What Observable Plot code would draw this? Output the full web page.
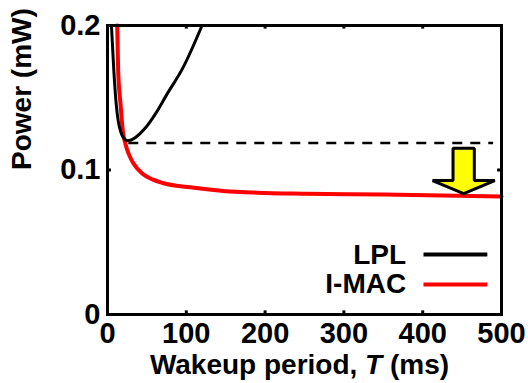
<!DOCTYPE html>
<html><head><meta charset="utf-8">
<script src="https://cdn.jsdelivr.net/npm/d3@7"></script>
<script src="https://cdn.jsdelivr.net/npm/@observablehq/plot@0.6"></script>
<style>body{margin:0;background:#fff}</style>
</head><body><div id="chart"></div>
<script>
// Data
const lplT = [5, 8, 11, 13.6, 16.5, 20, 25, 30, 35.5, 48, 61, 75, 96, 120];
const lplP = [0.2, 0.169, 0.146, 0.134, 0.127, 0.1225, 0.1204, 0.1208, 0.1225, 0.129, 0.139, 0.152, 0.171, 0.2];
const imacT = [12.3, 13.5, 16.5, 19.4, 22.8, 27, 33, 44, 57, 70, 105, 147, 190, 250, 350, 500];
const imacP = [0.2, 0.169, 0.146, 0.127, 0.118, 0.111, 0.1045, 0.0976, 0.0935, 0.091, 0.088, 0.0855, 0.0843, 0.0836, 0.083, 0.0817];
const seriesNames = ["LPL", "I-MAC"];
const seriesColors = ["black", "#ff0000"];
const xTicks = [0, 100, 200, 300, 400, 500];
const yTicks = [0, 0.1, 0.2];
const yTickLabels = ["0", "0.1", "0.2"];
const lplMinLevel = 0.1186;      // dashed reference level
const dashedFrom = 27, dashedTo = 490;
const arrowAt = 452;             // arrow centre (ms)
const arrowTop = 0.115, arrowNeck = 0.0927, arrowTip = 0.0837;

const lpl = lplT.map((t, i) => ({T: t, P: lplP[i]}));
const imac = imacT.map((t, i) => ({T: t, P: imacP[i]}));
const yLab = yTicks.map((v, i) => ({v, s: yTickLabels[i]}));

// arrow polygon in data units
const sw = 13.5, hw = 39.5;
const arrow = [
  {T: arrowAt - sw, P: arrowTop}, {T: arrowAt + sw, P: arrowTop},
  {T: arrowAt + sw, P: arrowNeck}, {T: arrowAt + hw, P: arrowNeck},
  {T: arrowAt, P: arrowTip},
  {T: arrowAt - hw, P: arrowNeck}, {T: arrowAt - sw, P: arrowNeck}
];

// legend placement (data units)
const legTextX = 379, legLineX1 = 401, legLineX2 = 482;
const legY = [0.0415, 0.0208];
const legend = seriesNames.map((n, i) => ({name: n, color: seriesColors[i], y: legY[i]}));

const tickLenY = 0.0025, tickLenX = 5;
const innerX = xTicks.slice(1, -1), innerY = yTicks.slice(1, -1);

const font = "Liberation Sans, Arial, Helvetica, sans-serif";
const chart = Plot.plot({
  width: 528, height: 383,
  marginLeft: 107, marginRight: 27, marginTop: 25, marginBottom: 69,
  style: {fontFamily: font, fontWeight: "bold", fontSize: "28px", color: "black", background: "white", overflow: "visible"},
  x: {domain: [0, 500], axis: null},
  y: {domain: [0, 0.2], axis: null},
  marks: [
    Plot.text(xTicks, {x: d => d, frameAnchor: "bottom", dy: 19, lineAnchor: "middle", fontSize: 29}),
    Plot.text(yLab, {y: "v", text: "s", frameAnchor: "left", dx: -7, textAnchor: "end", lineAnchor: "middle", fontSize: 29}),
    Plot.ruleX(innerX, {y1: 0, y2: tickLenY, strokeWidth: 3}),
    Plot.ruleX(innerX, {y1: 0.2 - tickLenY, y2: 0.2, strokeWidth: 3}),
    Plot.ruleY(innerY, {x1: 0, x2: tickLenX, strokeWidth: 3}),
    Plot.ruleY(innerY, {x1: 500 - tickLenX, x2: 500, strokeWidth: 3}),
    Plot.ruleY([lplMinLevel], {x1: dashedFrom, x2: dashedTo, stroke: "black", strokeWidth: 2.5, strokeDasharray: "10,8"}),
    Plot.line(imac, {x: "T", y: "P", stroke: seriesColors[1], strokeWidth: 4, curve: "monotone-x"}),
    Plot.line(lpl, {x: "T", y: "P", stroke: seriesColors[0], strokeWidth: 3, curve: "monotone-x"}),
    Plot.line(arrow, {x: "T", y: "P", curve: "linear-closed", fill: "#ffff00", stroke: "black", strokeWidth: 3, strokeLinejoin: "miter"}),
    Plot.text(legend, {x: legTextX, y: "y", text: "name", textAnchor: "end", lineAnchor: "middle", fontSize: 28}),
    Plot.link(legend, {x1: legLineX1, x2: legLineX2, y1: "y", y2: "y", stroke: "color", strokeWidth: 4}),
    Plot.frame({strokeWidth: 3}),
    Plot.text(["Power (mW)"], {frameAnchor: "left", rotate: -90, dx: -85, lineAnchor: "middle", fontSize: 28}),
    Plot.text(["Wakeup period, T (ms)"], {frameAnchor: "bottom", dy: 51, dx: -5, lineAnchor: "middle", fontSize: 28})
  ]
});
document.getElementById("chart").appendChild(chart);
// italic T in x title
chart.querySelectorAll("text").forEach(t => {
  if (t.textContent === "Wakeup period, T (ms)") {
    t.textContent = "";
    const parts = [["Wakeup period, ", null], ["T", "italic"], [" (ms)", null]];
    for (const [s, st] of parts) {
      const ts = document.createElementNS("http://www.w3.org/2000/svg", "tspan");
      ts.textContent = s;
      if (st) ts.setAttribute("font-style", st);
      t.appendChild(ts);
    }
  }
});
</script>
</body></html>
